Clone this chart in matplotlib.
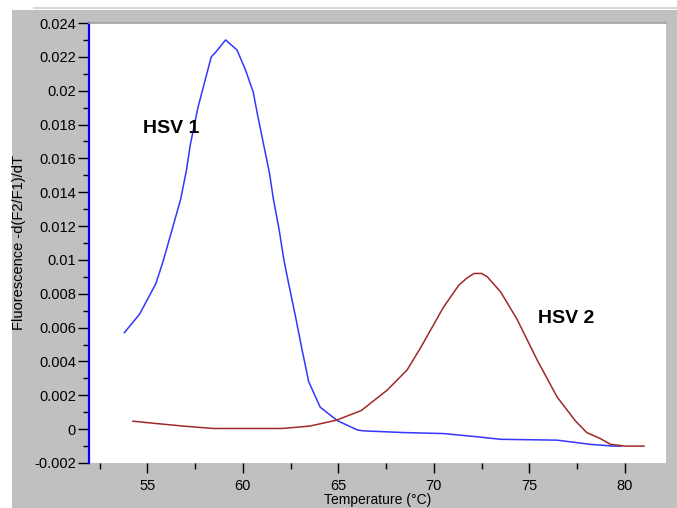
import matplotlib
matplotlib.use("Agg")
import matplotlib.pyplot as plt
from matplotlib.patches import Rectangle
from matplotlib.lines import Line2D
from matplotlib.ticker import MultipleLocator

# HSV 1 melting curve (blue)
hsv1_temp = [53.8, 54.6, 55.45, 55.85, 56.3, 56.75, 57.05, 57.25, 57.65, 58.35,
             58.6, 59.1, 59.7, 60.15, 60.55, 60.75, 61.4, 61.6, 61.9, 62.15,
             62.4, 62.75, 63.1, 63.45, 64.05, 64.95, 66.0, 66.3, 68.4, 70.5,
             72.25, 73.5, 76.45, 78.2, 79.4, 79.8]
hsv1_val = [0.0057, 0.0068, 0.0086, 0.0100, 0.0118, 0.0136, 0.0153, 0.0168, 0.0190, 0.0220,
            0.0223, 0.0230, 0.0224, 0.0212, 0.0199, 0.0187, 0.0151, 0.0136, 0.0118, 0.0100,
            0.0086, 0.0067, 0.0047, 0.0028, 0.0013, 0.0005, -0.00005, -0.0001, -0.0002, -0.00026,
            -0.00045, -0.0006, -0.00065, -0.0009, -0.001, -0.001]

# HSV 2 melting curve (dark red)
hsv2_temp = [54.25, 55.4, 56.9, 58.45, 62.05, 63.5, 64.9, 66.2, 67.55, 68.25,
             68.6, 69.3, 70.5, 71.3, 71.7, 72.1, 72.5, 72.8, 73.5, 74.35, 75.4, 76.45,
             77.4, 78.0, 78.7, 79.25, 80.0, 81.0]
hsv2_val = [0.00047, 0.00034, 0.00018, 0.00004, 0.00004, 0.00018, 0.00053, 0.0011, 0.0023, 0.0031,
            0.0035, 0.0048, 0.0072, 0.0085, 0.0089, 0.0092, 0.0092, 0.0090, 0.0081, 0.0065, 0.0041, 0.0019,
            0.0005, -0.0002, -0.00055, -0.0009, -0.001, -0.001]

plt.rcParams["font.family"] = ["Liberation Sans", "DejaVu Sans"]

W, H = 677, 508
fig = plt.figure(figsize=(W / 100, H / 100), dpi=100, facecolor="white")

# grey window background
fig.patches.append(Rectangle((12 / W, 0), 1 - 12 / W, 1 - 10 / H,
                             transform=fig.transFigure, facecolor="#c0c0c0",
                             edgecolor="none", zorder=-10))
fig.lines.append(Line2D([0.05, 1], [1 - 7.5 / H, 1 - 7.5 / H],
                        transform=fig.transFigure, color="#d8d8d8", lw=1.5))

ax = fig.add_axes([89 / W, 1 - 463 / H, (666 - 89) / W, (463 - 23) / H])
ax.set_facecolor("white")

ax.plot(hsv1_temp, hsv1_val, color="#3535ff", lw=1.1)
ax.plot(hsv2_temp, hsv2_val, color="#a02828", lw=1.1)

ax.set_xlim(51.95, 82.15)
ax.set_ylim(-0.002, 0.024)

ax.xaxis.set_major_locator(MultipleLocator(5))
ax.xaxis.set_minor_locator(MultipleLocator(2.5))
ax.yaxis.set_major_locator(MultipleLocator(0.002))
ax.yaxis.set_minor_locator(MultipleLocator(0.001))
ax.yaxis.set_major_formatter(plt.FuncFormatter(lambda v, p: ("%.3f" % v).rstrip("0").rstrip(".") if abs(v) > 1e-9 else "0"))

ax.tick_params(axis="y", which="major", length=8, width=1, pad=1.5, labelsize=10.5, direction="out")
ax.tick_params(axis="y", which="minor", length=4.5, width=1, direction="out")
ax.tick_params(axis="x", which="major", length=7.5, width=1, pad=4, labelsize=10.5, direction="out")
ax.tick_params(axis="x", which="minor", length=4, width=1, direction="out")

for s in ["right", "bottom"]:
    ax.spines[s].set_visible(False)
ax.spines["left"].set_color("#0000ff")
ax.spines["left"].set_linewidth(1.6)
ax.spines["top"].set_color("#a0a0a0")
ax.spines["top"].set_linewidth(1.2)

ax.set_ylabel("Fluorescence -d(F2/F1)/dT", fontsize=10.5, labelpad=6)
ax.set_xlabel("Temperature (\u00b0C)", fontsize=10, labelpad=0)

ax.text(56.26, 0.01777, "HSV 1", fontsize=14, fontweight="bold", ha="center", va="center")
ax.text(76.9, 0.00651, "HSV 2", fontsize=14, fontweight="bold", ha="center", va="center")

fig.savefig("out.png", dpi=100)
